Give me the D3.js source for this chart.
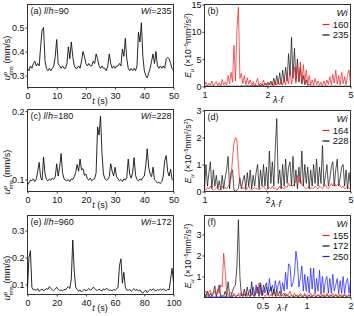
<!DOCTYPE html>
<meta charset="utf-8">
<script src="https://d3js.org/d3.v7.min.js"></script>
<style>
  body { margin: 0; background: #fff; }
  text { font-family: "Liberation Sans", Arial, sans-serif; }
</style>
<div id="my_dataviz"></div>
<script>
// ---- time series u_rms^p, left column ----
// (a) l/h=90, Wi=235, one value every 0.5 s
var stepA = 0.5;
var uA = [0.33,0.32,0.34,0.33,0.35,0.36,0.34,0.35,0.34,0.42,0.49,0.50,0.36,0.33,0.32,0.33,0.32,0.33,0.34,0.38,
  0.45,0.35,0.34,0.33,0.34,0.33,0.33,0.35,0.42,0.37,0.44,0.38,0.34,0.33,0.33,0.34,0.33,0.36,0.40,0.38,
  0.35,0.34,0.35,0.34,0.34,0.36,0.35,0.39,0.37,0.34,0.33,0.34,0.33,0.33,0.32,0.34,0.39,0.35,0.33,0.34,
  0.33,0.34,0.34,0.35,0.34,0.41,0.38,0.455,0.37,0.33,0.32,0.33,0.32,0.33,0.32,0.34,0.48,0.44,0.52,0.38,
  0.32,0.30,0.29,0.31,0.33,0.36,0.39,0.35,0.40,0.34,0.33,0.34,0.33,0.34,0.33,0.37,0.375,0.37,0.35,0.33,0.32];

// (c) l/h=180, Wi=228, every 0.5 s
var stepC = 0.5;
var uC = [0.092,0.095,0.099,0.098,0.101,0.097,0.100,0.112,0.125,0.103,0.099,0.133,0.108,0.100,0.098,0.101,0.099,0.102,0.100,0.104,
  0.123,0.105,0.118,0.138,0.110,0.101,0.099,0.098,0.100,0.097,0.101,0.100,0.104,0.110,0.122,0.112,0.130,0.114,0.116,0.106,
  0.108,0.101,0.099,0.102,0.098,0.100,0.101,0.110,0.177,0.165,0.193,0.140,0.108,0.101,0.099,0.100,0.104,0.123,0.112,0.105,
  0.118,0.104,0.101,0.098,0.100,0.097,0.101,0.099,0.103,0.130,0.108,0.102,0.110,0.132,0.106,0.100,0.098,0.101,0.099,0.103,
  0.105,0.120,0.145,0.118,0.108,0.104,0.118,0.100,0.097,0.095,0.096,0.094,0.097,0.105,0.128,0.135,0.112,0.105,0.115,0.100,0.099];

// (e) l/h=960, Wi=172, every 1 s
var stepE = 1;
var uE = [0.085,0.20,0.225,0.09,0.08,0.082,0.078,0.085,0.075,0.08,0.083,0.077,0.08,0.085,0.082,0.092,0.085,0.08,0.078,0.083,
  0.09,0.082,0.078,0.08,0.076,0.082,0.08,0.088,0.092,0.085,0.12,0.265,0.15,0.09,0.082,0.075,0.08,0.072,0.078,0.082,
  0.076,0.08,0.085,0.078,0.082,0.09,0.085,0.08,0.078,0.083,0.079,0.076,0.084,0.08,0.086,0.082,0.078,0.08,0.076,0.082,
  0.079,0.083,0.09,0.17,0.195,0.105,0.145,0.09,0.08,0.078,0.082,0.075,0.08,0.085,0.078,0.082,0.076,0.08,0.072,0.068,
  0.075,0.079,0.07,0.076,0.082,0.078,0.084,0.08,0.076,0.082,0.078,0.083,0.079,0.084,0.08,0.077,0.082,0.08,0.12,0.16,0.11];

// ---- spectra E_u, right column (points evenly spaced in log lambda*f) ----
var bRange = [1, 5];
var bWi160 = [0.2,0.8,0.1,0.6,0.2,1.0,0.1,0.5,0.9,0.2,0.7,0.1,1.3,0.3,0.8,0.2,
  2.0,0.5,2.6,0.8,7.5,1.0,10.5,14.5,1.5,
  2.4,0.5,2.0,0.3,1.6,0.4,1.2,0.2,0.9,0.1,0.7,
  1.5,0.1,0.6,0.1,1.2,0.2,0.5,0.1,0.6,
  0.2,0.8,0.1,1.0,0.2,0.9,0.3,1.1,0.2,
  1.2,0.3,2.0,0.5,3.0,0.4,2.2,3.5,0.6,4.0,0.8,4.5,0.5,4.0,0.7,3.0,0.4,2.0,
  0.3,1.2,0.2,1.5,0.3,1.0,0.2,0.8,0.1,1.0,0.2,1.2,
  0.4,1.8,0.3,2.2,0.6,3.0,0.4,2.0,0.3,2.6,0.5,1.8,0.3,2.2,3.0,0.6];
var bWi235 = [0.05,0.1,0.02,0.08,0.05,0.02,0.1,0.05,0.02,0.08,0.05,0.1,0.02,0.05,0.08,0.02,0.05,0.1,0.02,0.05,
  0.08,0.02,0.1,0.05,0.02,0.15,0.05,0.1,0.02,0.2,0.05,0.15,0.05,0.3,0.1,0.2,0.05,0.4,0.1,0.5,
  0.1,0.6,0.2,0.8,0.3,
  1.0,0.2,1.5,0.3,2.0,0.5,2.5,0.4,3.0,0.8,3.5,1.0,6.0,2.0,9.0,1.5,7.0,1.0,5.0,0.8,3.5,0.5,2.0,0.3,1.2,0.2,0.4,
  0.1,0.05,0.1,0.02,0.05,0.1,0.02,0.05,0.08,0.02,0.05,0.1,0.02,0.05,0.08,0.02,0.05,0.1,0.02,0.05,0.08,0.02,0.05,0.1,0.02,0.05,0.08,0.02];

var dRange = [1, 5];
var dWi164 = [0.1,0.05,0.15,0.1,0.2,0.1,0.05,0.1,0.15,0.1,0.05,0.1,0.2,0.1,0.15,0.1,0.2,0.3,0.5,
  1.2,1.8,2.0,1.9,1.0,0.3,
  0.2,0.1,0.15,0.05,0.1,0.2,0.1,0.05,0.1,0.15,0.1,0.1,0.05,0.1,0.15,0.2,0.1,0.05,0.1,0.15,0.1,0.2,0.1,0.15,0.05,0.1,0.2,0.1,0.15,0.1,0.2,0.15,0.3,0.2,0.25,0.2,
  0.3,0.4,0.6,0.35,0.5,0.25,0.2,0.15,
  0.1,0.15,0.2,0.1,0.15,0.1,0.2,0.15,0.1,0.2,0.15,0.1,0.2,0.25,0.15,0.1,0.2,0.3,0.2,0.35,0.2,0.25,0.3,0.2,0.15,0.2,0.1,0.15,0.2,0.1,0.15];
var dWi228 = [0.1,1.0,0.2,0.7,1.1,0.1,0.8,0.2,0.6,0.1,
  0.4,0.05,0.6,0.1,0.5,0.8,1.3,0.1,0.7,0.8,
  0.05,0.02,0.05,0.1,0.5,0.1,0.4,0.6,0.1,0.7,
  0.2,0.8,0.1,0.6,0.2,0.7,1.0,0.1,0.8,0.2,
  1.0,0.2,0.9,0.1,1.5,0.3,1.1,0.2,1.6,2.7,
  0.3,0.8,0.1,1.0,0.2,1.2,0.3,0.9,1.1,0.2,
  1.3,0.2,0.8,0.1,0.9,0.3,1.5,0.2,1.0,0.3,
  0.9,0.1,0.8,0.2,1.0,0.3,1.2,0.2,0.9,0.3,
  1.7,0.2,0.6,1.0,0.2,0.5,0.9,1.1,0.2,0.8,
  1.2,0.2,0.5,0.9,1.0,0.2,0.8,0.1,0.7,0.2];

var fRange = [0.2, 2];
var fWi155 = [0.2,0.3,0.1,0.25,0.35,0.1,0.15,0.3,0.1,0.4,0.2,
  0.6,0.5,2.1,1.3,0.3,0.1,
  0.15,0.25,0.05,0.2,0.1,0.05,0.2,0.1,0.25,0.05,0.15,0.2,0.05,0.15,0.05,0.2,0.1,0.05,0.2,0.3,
  0.7,0.2,0.1,0.15,
  0.05,0.15,0.2,0.05,0.15,0.05,0.2,0.25,0.05,0.15,0.05,0.2,0.1,0.05,0.2,0.05,0.15,0.3,0.1,0.05,
  0.2,0.05,0.15,0.05,0.2,0.1,0.05,0.2,0.05,0.15,0.05,0.2,0.05,0.15,0.2,0.05,0.15,0.05,0.25,0.05,
  0.15,0.05,0.2,0.05,0.15,0.05,0.2,0.05,0.15,0.05,0.2,0.05,0.15,0.05,0.2,0.1,0.05,0.15,0.05];
var fWi172 = [0.2,0.05,0.3,0.05,0.2,0.05,0.25,0.55,0.05,0.3,
  0.6,0.05,0.1,0.05,0.3,0.05,0.75,0.1,0.05,0.3,
  0.5,0.6,1.5,3.7,1.0,0.1,0.05,
  0.4,0.05,0.5,0.1,0.05,0.75,0.1,0.05,0.3,0.5,0.05,0.6,0.1,0.3,0.5,0.7,0.1,0.3,0.5,
  0.1,0.4,0.05,0.35,0.1,0.3,0.05,0.15,0.2,0.05,0.15,0.05,0.05,0.1,0.05,
  0.05,0.1,0.05,0.05,0.1,0.05,0.05,0.1,0.05,0.05,0.1,0.05,0.05,0.1,0.05,0.05,0.1,0.05,0.05,0.1,
  0.05,0.05,0.1,0.05,0.05,0.1,0.05,0.05,0.1,0.05,0.05,0.1,0.05,0.05,0.1,0.05,0.05,0.1,0.05];
var fWi250 = [0.02,0.05,0.02,0.03,0.05,0.02,0.03,0.02,0.05,0.03,0.02,0.05,0.03,0.02,0.05,0.03,0.02,0.05,0.03,0.05,
  0.1,0.05,0.08,0.1,0.05,0.1,0.15,0.1,0.2,0.15,0.2,
  0.4,0.1,0.5,0.1,0.6,0.2,0.5,0.7,0.1,0.6,0.2,
  0.5,0.2,0.9,0.3,0.6,0.2,0.8,0.3,0.6,0.8,0.2,0.7,0.3,
  1.2,0.4,1.6,1.5,0.5,0.7,1.1,2.2,1.7,0.5,0.9,1.5,
  0.3,1.1,0.3,1.0,0.2,1.4,0.4,1.4,0.2,0.9,0.3,1.3,0.2,1.0,0.2,0.8,1.0,0.2,0.9,0.2,
  1.1,0.3,0.6,0.9,0.2,0.8,0.2,1.0,0.2,0.7,0.9,0.2,0.8];

var red = "#f01e1e", blue = "#1a1aff", black = "#111";

var svg = d3.select("#my_dataviz")
  .append("svg")
    .attr("width", 354)
    .attr("height", 316);

// draws frame + axes of one panel, returns the scales
function panel(p) {
  var x = (p.log ? d3.scaleLog() : d3.scaleLinear()).domain(p.xd).range([p.l, p.r]);
  var y = d3.scaleLinear().domain(p.yd).range([p.b, p.t]);

  var gx = svg.append("g")
    .attr("transform", "translate(0," + p.b + ")")
    .call(d3.axisBottom(x).tickValues(p.xt).tickSize(2).tickPadding(3).tickFormat(function(d) { return String(d); }));
  var gy = svg.append("g")
    .attr("transform", "translate(" + p.l + ",0)")
    .call(d3.axisLeft(y).tickValues(p.yt).tickSize(2).tickPadding(1).tickFormat(p.yf));
  [gx, gy].forEach(function(g) {
    g.select(".domain").remove();
    g.selectAll("line").attr("stroke", "#333");
    g.selectAll("text").attr("font-size", 9).attr("fill", "#111")
      .style("font-family", '"Liberation Sans", Arial, sans-serif');
  });

  svg.append("rect")
    .attr("x", p.l).attr("y", p.t)
    .attr("width", p.r - p.l).attr("height", p.b - p.t)
    .attr("fill", "none").attr("stroke", "#333").attr("stroke-width", 1);
  return {x: x, y: y};
}

function series(sc, vals, step, color) {
  svg.append("path")
    .datum(vals)
    .attr("fill", "none")
    .attr("stroke", color)
    .attr("stroke-width", 0.9)
    .attr("d", d3.line()
      .x(function(d, i) { return sc.x(i * step); })
      .y(function(d) { return sc.y(d); }));
}

function spectrum(sc, vals, range, color) {
  var n = vals.length;
  svg.append("path")
    .datum(vals)
    .attr("fill", "none")
    .attr("stroke", color)
    .attr("stroke-width", 0.8)
    .attr("stroke-opacity", 0.9)
    .attr("d", d3.line()
      .x(function(d, i) { return sc.x(range[0] * Math.pow(range[1] / range[0], i / (n - 1))); })
      .y(function(d) { return sc.y(d); }));
}

// text built from pieces {t, it, dy, dx, fs}
function richText(g, parts) {
  parts.forEach(function(s) {
    var ts = g.append("tspan").text(s.t);
    if (s.it) ts.attr("font-style", "italic");
    if (s.dy) ts.attr("dy", s.dy);
    if (s.dx) ts.attr("dx", s.dx);
    if (s.fs) ts.attr("font-size", s.fs);
  });
}

function uTitle(cy) {
  var t = svg.append("text").attr("transform", "translate(10," + cy + ") rotate(-90)")
    .attr("text-anchor", "middle").attr("font-size", 9).attr("fill", "#111");
  richText(t, [{t: "u", it: true}, {t: "p", it: true, dy: -3.5, fs: 6}, {t: "rms", dy: 6, dx: -3.3, fs: 5.5}, {t: " (mm/s)", dy: -2.5}]);
}

function eTitle(cy) {
  var t = svg.append("text").attr("transform", "translate(191," + cy + ") rotate(-90)")
    .attr("text-anchor", "middle").attr("font-size", 8.5).attr("fill", "#111");
  richText(t, [{t: "E", it: true}, {t: "u", it: true, dy: 2.5, fs: 6}, {t: " (×10", dy: -2.5},
    {t: "−5", dy: -3.2, fs: 5.5}, {t: "mm", dy: 3.2}, {t: "2", dy: -3.2, fs: 5.5}, {t: "/s", dy: 3.2},
    {t: "2", dy: -3.2, fs: 5.5}, {t: ")", dy: 3.2}]);
}

function xTitle(cx, y, isTime) {
  var t = svg.append("text").attr("x", cx).attr("y", y)
    .attr("text-anchor", "middle").attr("font-size", 9).attr("fill", "#111");
  if (isTime) richText(t, [{t: "t", it: true}, {t: " (s)"}]);
  else richText(t, [{t: "λ", it: true}, {t: "·"}, {t: "f", it: true}]);
}

function leftLabel(sc, letter, lh, wi) {
  var r = sc.x.range(), top = sc.y.range()[1];
  var t = svg.append("text").attr("x", r[0] + 3).attr("y", top + 9).attr("font-size", 9).attr("fill", "#111");
  richText(t, [{t: "(" + letter + ") "}, {t: "l", it: true}, {t: "/"}, {t: "h", it: true}, {t: "=" + lh}]);
  var w = svg.append("text").attr("x", r[1] - 2).attr("y", top + 9).attr("text-anchor", "end")
    .attr("font-size", 9).attr("fill", "#111");
  richText(w, [{t: "Wi", it: true}, {t: "=" + wi}]);
}

function legend(sc, letter, names, colors) {
  var r = sc.x.range(), top = sc.y.range()[1];
  svg.append("text").attr("x", r[0] + 3).attr("y", top + 9).attr("font-size", 9).attr("fill", "#111").text("(" + letter + ")");
  svg.append("text").attr("x", r[1] - 3).attr("y", top + 11.5).attr("text-anchor", "end")
    .attr("font-size", 9.5).attr("font-style", "italic").attr("fill", "#111").text("Wi");
  names.forEach(function(nm, k) {
    var cy = top + 20 + 10.5 * k;
    svg.append("line").attr("x1", r[1] - 28).attr("x2", r[1] - 21).attr("y1", cy).attr("y2", cy)
      .attr("stroke", colors[k]).attr("stroke-width", 1.2);
    svg.append("text").attr("x", r[1] - 2).attr("y", cy + 3.3).attr("text-anchor", "end")
      .attr("font-size", 9.5).attr("fill", "#111").text(nm);
  });
}

var f1 = d3.format(".1f");

// ---- left column ----
var pa = panel({l: 27.5, r: 173.5, t: 4.5, b: 87.5, xd: [0, 50], yd: [0.25, 0.596],
  xt: [0, 10, 20, 30, 40, 50], yt: [0.3, 0.4, 0.5], yf: f1});
series(pa, uA, stepA, black);
leftLabel(pa, "a", 90, 235);
uTitle(58);
xTitle(100, 104, true);

var pc = panel({l: 27.5, r: 173.5, t: 109.5, b: 191.5, xd: [0, 50], yd: [0.0824, 0.2025],
  xt: [0, 10, 20, 30, 40, 50], yt: [0.1, 0.2], yf: f1});
series(pc, uC, stepC, black);
leftLabel(pc, "c", 180, 228);
uTitle(172);
xTitle(100, 208, true);

var pe = panel({l: 27.5, r: 173.5, t: 215.5, b: 294.5, xd: [0, 100], yd: [0.063, 0.3556],
  xt: [0, 20, 40, 60, 80, 100], yt: [0.1, 0.2, 0.3], yf: f1});
series(pe, uE, stepE, black);
leftLabel(pe, "e", 960, 172);
uTitle(278);
xTitle(100, 311, true);

// ---- right column ----
var pb = panel({l: 204.5, r: 350.5, t: 4.5, b: 86.5, log: true, xd: bRange, yd: [0, 15],
  xt: [1, 2, 5], yt: [0, 5, 10, 15], yf: d3.format("d")});
spectrum(pb, bWi235, bRange, black);
spectrum(pb, bWi160, bRange, red);
legend(pb, "b", ["160", "235"], [red, black]);
eTitle(45.5);
xTitle(278, 103, false);

var pd = panel({l: 204.5, r: 350.5, t: 110.5, b: 191.5, log: true, xd: dRange, yd: [0, 3],
  xt: [1, 2, 5], yt: [0, 1, 2, 3], yf: d3.format("d")});
spectrum(pd, dWi228, dRange, black);
spectrum(pd, dWi164, dRange, red);
legend(pd, "d", ["164", "228"], [red, black]);
eTitle(151);
xTitle(276, 207, false);

var pf = panel({l: 204.5, r: 350.5, t: 215.5, b: 297.5, log: true, xd: fRange, yd: [0, 3.9],
  xt: [0.5, 1, 2], yt: [1, 2, 3], yf: d3.format("d")});
spectrum(pf, fWi250, fRange, blue);
spectrum(pf, fWi172, fRange, black);
spectrum(pf, fWi155, fRange, red);
legend(pf, "f", ["155", "172", "250"], [red, black, blue]);
eTitle(256);
xTitle(282, 311, false);
</script>
